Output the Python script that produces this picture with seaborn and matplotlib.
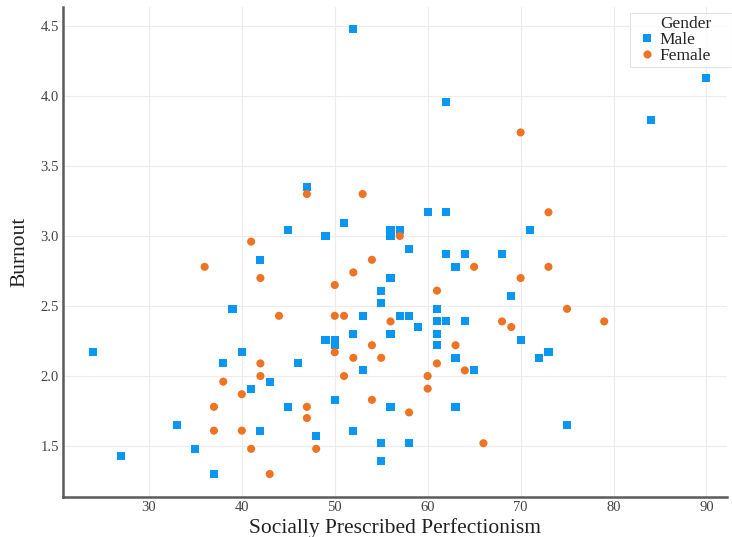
import matplotlib
matplotlib.use("Agg")
import matplotlib.pyplot as plt
from matplotlib.lines import Line2D
import seaborn as sns
import pandas as pd

# Data
male_spp = [24, 27, 33, 35, 37, 38, 39, 40, 41, 42, 42, 43, 45, 45, 46, 47, 48,
            49, 49, 50, 50, 50, 51, 52, 52, 52, 53, 53, 55, 55, 55, 55, 56, 56,
            56, 56, 56, 57, 57, 58, 58, 58, 59, 60, 61, 61, 61, 61, 62, 62, 62,
            62, 63, 63, 63, 64, 64, 65, 68, 69, 70, 71, 72, 73, 75, 84, 90]
male_burnout = [2.17, 1.43, 1.65, 1.48, 1.30, 2.09, 2.48, 2.17, 1.91, 2.83, 1.61,
                1.96, 3.04, 1.78, 2.09, 3.35, 1.57, 3.00, 2.26, 2.22, 2.26, 1.83,
                3.09, 4.48, 2.30, 1.61, 2.43, 2.04, 2.61, 2.52, 1.52, 1.39, 3.04,
                3.00, 2.70, 2.30, 1.78, 3.04, 2.43, 2.91, 2.43, 1.52, 2.35, 3.17,
                2.48, 2.39, 2.30, 2.22, 3.96, 3.17, 2.87, 2.39, 2.78, 2.13, 1.78,
                2.87, 2.39, 2.04, 2.87, 2.57, 2.26, 3.04, 2.13, 2.17, 1.65, 3.83,
                4.13]

female_spp = [36, 37, 37, 38, 40, 40, 41, 41, 42, 42, 42, 43, 44, 47, 47, 47, 48,
              50, 50, 50, 51, 51, 52, 52, 53, 54, 54, 54, 55, 56, 57, 58, 60, 60,
              61, 61, 63, 64, 65, 66, 68, 69, 70, 70, 73, 73, 75, 79]
female_burnout = [2.78, 1.78, 1.61, 1.96, 1.87, 1.61, 2.96, 1.48, 2.70, 2.09, 2.00,
                  1.30, 2.43, 3.30, 1.78, 1.70, 1.48, 2.65, 2.43, 2.17, 2.43, 2.00,
                  2.74, 2.13, 3.30, 2.83, 2.22, 1.83, 2.13, 2.39, 3.00, 1.74, 2.00,
                  1.91, 2.61, 2.09, 2.22, 2.04, 2.78, 1.52, 2.39, 2.35, 3.74, 2.70,
                  3.17, 2.78, 2.48, 2.39]

x_ticks = [30, 40, 50, 60, 70, 80, 90]
y_ticks = [1.5, 2.0, 2.5, 3.0, 3.5, 4.0, 4.5]

df = pd.DataFrame({
    "spp": male_spp + female_spp,
    "burnout": male_burnout + female_burnout,
    "Gender": ["Male"] * len(male_spp) + ["Female"] * len(female_spp),
})

sns.set_theme(style="whitegrid")
plt.rcParams["font.family"] = ["Liberation Serif", "DejaVu Serif"]

fig = plt.figure(figsize=(7.32, 5.37), dpi=100)
ax = fig.add_axes([0.086, 0.0745, 0.907, 0.9125])

sns.scatterplot(data=df, x="spp", y="burnout", hue="Gender", style="Gender",
                markers={"Male": "s", "Female": "o"},
                palette={"Male": "#0a97f2", "Female": "#ee7322"},
                s=34, linewidth=0, ax=ax)

ax.set_xlim(20.75, 92.2)
ax.set_ylim(1.136, 4.636)
ax.set_xticks(x_ticks)
ax.set_yticks(y_ticks)
ax.set_xticklabels([str(v) for v in x_ticks])
ax.set_yticklabels([f"{v:.1f}" for v in y_ticks])

ax.set_xlabel("Socially Prescribed Perfectionism", fontsize=15.5,
              color="#222222", labelpad=3)
ax.set_ylabel("Burnout", fontsize=15.5, color="#222222", labelpad=8)

ax.grid(True, color="#ececec", linewidth=0.8)
ax.set_facecolor("white")
for side in ["top", "right"]:
    ax.spines[side].set_visible(False)
for side in ["left", "bottom"]:
    ax.spines[side].set_color("#5a5a5a")
    ax.spines[side].set_linewidth(1.8)
ax.tick_params(axis="both", direction="in", length=3, width=1, color="#555555",
               labelsize=10.5, labelcolor="#444444", pad=3)

# legend: title row left-aligned with the labels, like the reference
handles, labels = ax.get_legend_handles_labels()
blank = Line2D([], [], linestyle="none", marker="")
leg = ax.legend([blank] + handles, ["Gender"] + labels, loc="upper left",
                bbox_to_anchor=(0.854, 0.5, 0.154, 0.488), mode="expand",
                fontsize=12.5, frameon=True, fancybox=False,
                edgecolor="#dddddd", handletextpad=-0.08, borderpad=0.15,
                labelspacing=0.0, handlelength=1.65, borderaxespad=0.0)
leg.get_frame().set_linewidth(0.8)

fig.savefig("out.png", dpi=100)
